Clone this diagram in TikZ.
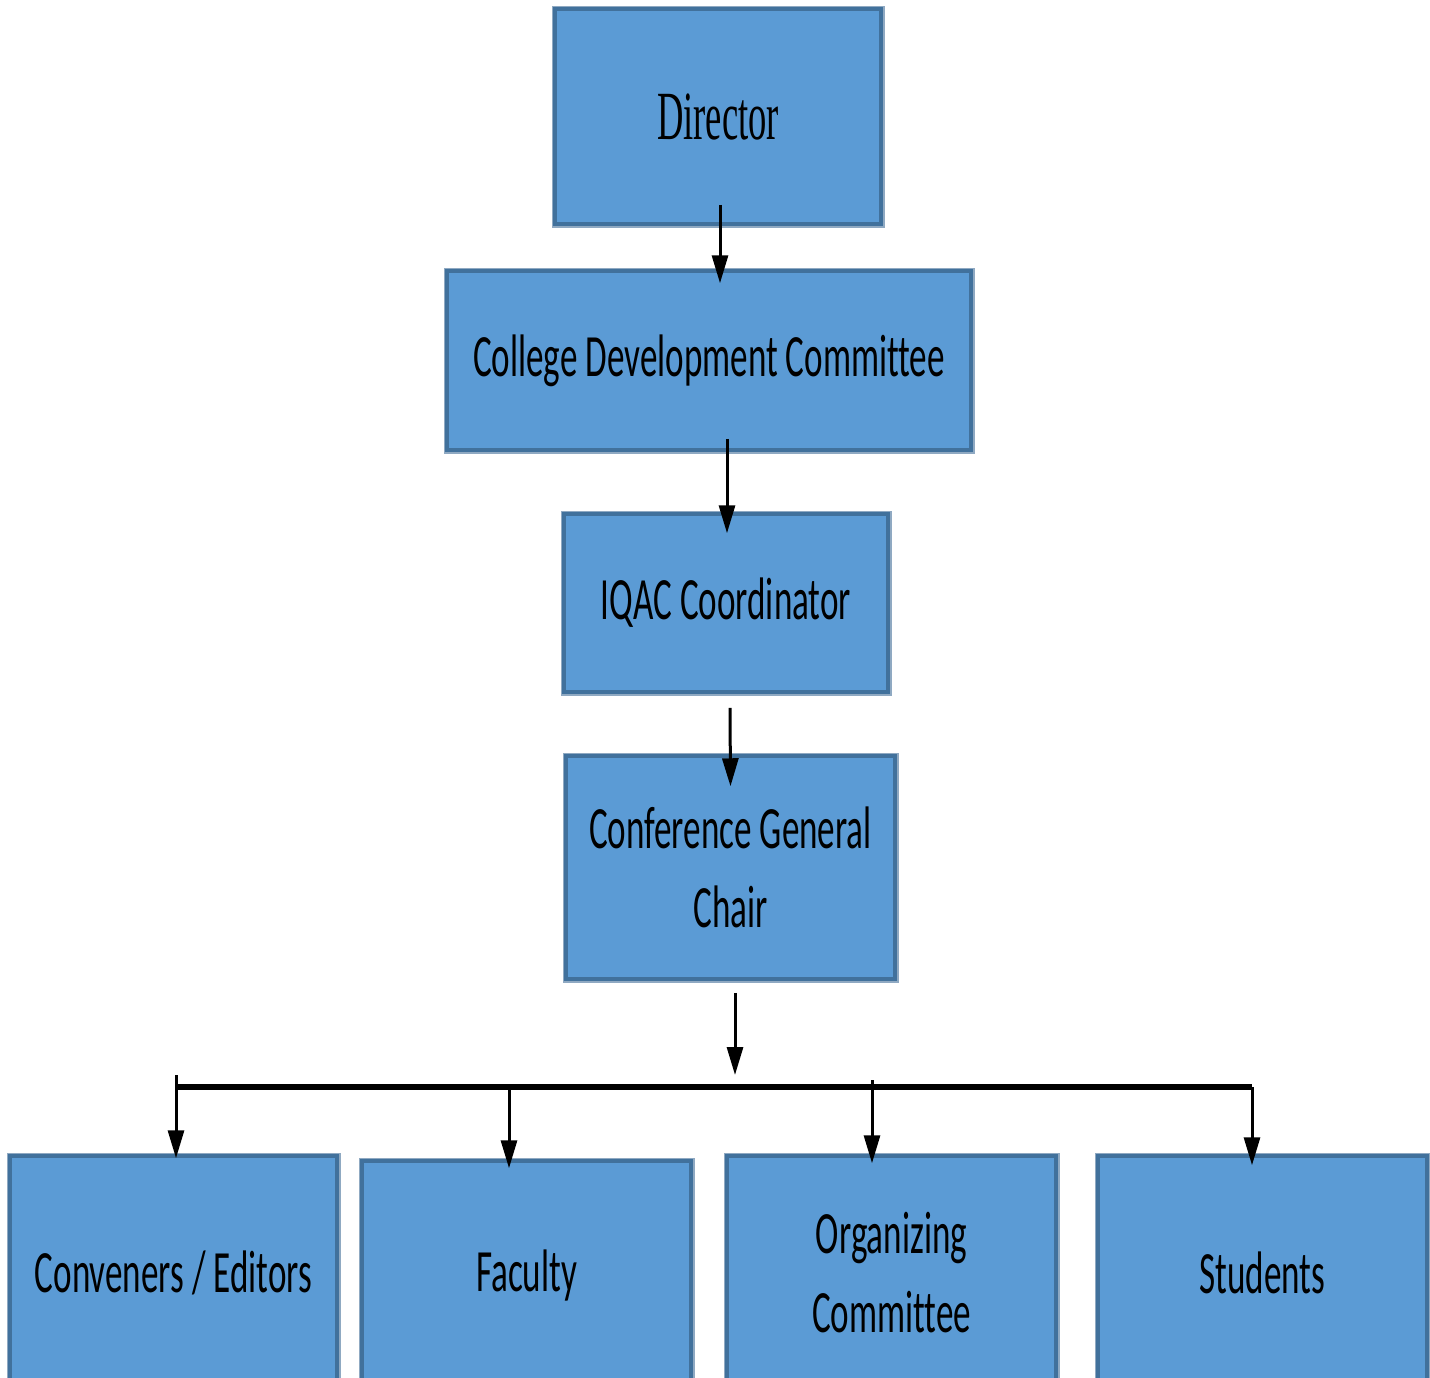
\documentclass[tikz,border=0pt]{standalone}
\usepackage{fontspec}
\newfontfamily\boxfont{Carlito}[FakeStretch=0.585,Ligatures=NoCommon]
\newfontfamily\dirfont{Liberation Serif}[FakeStretch=0.53]
\usetikzlibrary{arrows.meta}
\definecolor{boxfill}{HTML}{5B9BD5}
\definecolor{boxedge}{HTML}{41719C}
\definecolor{boxshade}{HTML}{8FA9C2}
\begin{document}
\begin{tikzpicture}[x=1pt,y=-1pt,
  orgbox/.style={rectangle,fill=boxfill,draw=boxedge,line width=3.5,inner sep=0,
    preaction={draw=boxshade,line width=7},align=center,
    font=\boxfont\fontsize{60}{79}\selectfont},
  arr/.style={line width=3,-{Triangle[width=16,length=28]}}]
\useasboundingbox[fill=white] (0,0) rectangle (1430,1377);
\node[orgbox,minimum width=326,minimum height=215,font=\dirfont\fontsize{69}{80}\selectfont](Dir) at (718,116.5){Director};
\node[orgbox,minimum width=524,minimum height=179](CDC) at (709,360.5){College Development Committee};
\node[orgbox,minimum width=324,minimum height=178](IQAC) at (726,603){IQAC Coordinator};
\node[orgbox,minimum width=329,minimum height=223](CGC) at (730.5,867.5){Conference General\\Chair};
\node[orgbox,minimum width=327,minimum height=234](Conv) at (173.5,1273){Conveners / Editors};
\node[orgbox,minimum width=329,minimum height=229](Fac) at (526.5,1275.5){Faculty};
\node[orgbox,minimum width=329,minimum height=234](Org) at (891.5,1273){Organizing\\Committee};
\node[orgbox,minimum width=329,minimum height=234](Stu) at (1262.5,1273){Students};
\coordinate(Hub) at (735,1087);
\coordinate(BusL) at (176,1087);
\coordinate(BusR) at (1252,1087);
\draw[arr]([xshift=2,yshift=21]Dir.south)--([xshift=11,yshift=-14]CDC.north);
\draw[arr]([xshift=18,yshift=13]CDC.south)--([xshift=1,yshift=-21]IQAC.north);
\draw[arr]([xshift=4,yshift=-14]IQAC.south)--([yshift=-32]CGC.north);
\draw[arr]([xshift=4.5,yshift=-12]CGC.south)--([yshift=12]Hub);
\draw[line width=6](BusL)--(BusR);
\draw[arr,shorten >=-4]([yshift=12]BusL)--(BusL|-Conv.north);
\draw[arr,shorten >=-9](Fac.north-|509,0)++(0,-74)--(Fac.north-|509,0);
\draw[arr,shorten >=-9]([yshift=7]Hub-|872,0)--(Org.north-|872,0);
\draw[arr,shorten >=-11](BusR)--(BusR|-Stu.north);
\end{tikzpicture}
\end{document}
